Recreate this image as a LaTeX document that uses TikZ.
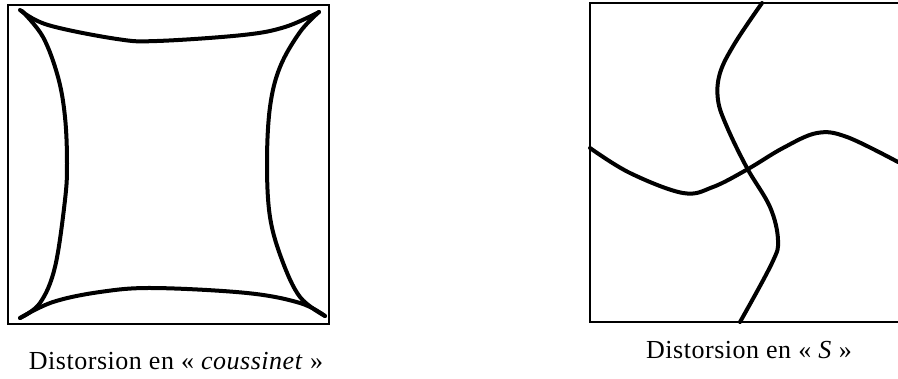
\documentclass[tikz,border=0pt]{standalone}
\usepackage{fontspec}
\setmainfont{Liberation Serif}
\newfontfamily\legfont[LetterSpace=2]{Liberation Serif}
\usepackage{tikz}

\begin{document}
\begin{tikzpicture}[x=1pt,y=-1pt,
    cadre/.style={line width=1.8pt},
    courbe/.style={line width=4pt,line cap=round,line join=round},
    legende/.style={font=\legfont\fontsize{26}{30}\selectfont,inner sep=0pt,anchor=base}]
  \useasboundingbox (0,0) rectangle (898,378);

  % coussinet
  \draw[cadre] (8,5) rectangle (329,324);
  \draw[courbe] plot[smooth,tension=0.6] coordinates
    {(20,10) (48,25) (117,39) (157,41) (243,35) (285,27) (319,12)};
  \draw[courbe] plot[smooth,tension=0.6] coordinates
    {(20,318) (53,302) (100,292) (153,288) (247,293) (300,303) (325,316)};
  \draw[courbe] plot[smooth,tension=0.6] coordinates
    {(22,11) (43,37) (58,77) (65,117) (67,163) (65,200) (55,267) (40,303) (20,318)};
  \draw[courbe] plot[smooth,tension=0.6] coordinates
    {(319,12) (300,32) (280,67) (270,107) (267,163) (270,217) (282,260) (300,297) (325,316)};
  \node[legende] (coussinet) at (176,369) {Distorsion en «~\textit{coussinet}~»};

  % S
  \draw[cadre] (898,3) -- (590,3) -- (590,322) -- (898,322);
  \draw[courbe] plot[smooth,tension=0.6] coordinates
    {(762,3) (735,43) (720,73) (718,100) (727,127) (747,168) (770,207) (778,240) (772,263) (740,322)};
  \draw[courbe] plot[smooth,tension=0.6] coordinates
    {(590,148) (630,173) (683,193) (713,187) (748,169) (783,148) (817,133) (847,137) (898,162)};
  \node[legende] (esse) at (749,358) {Distorsion en «~\textit{S}~»};
\end{tikzpicture}
\end{document}
